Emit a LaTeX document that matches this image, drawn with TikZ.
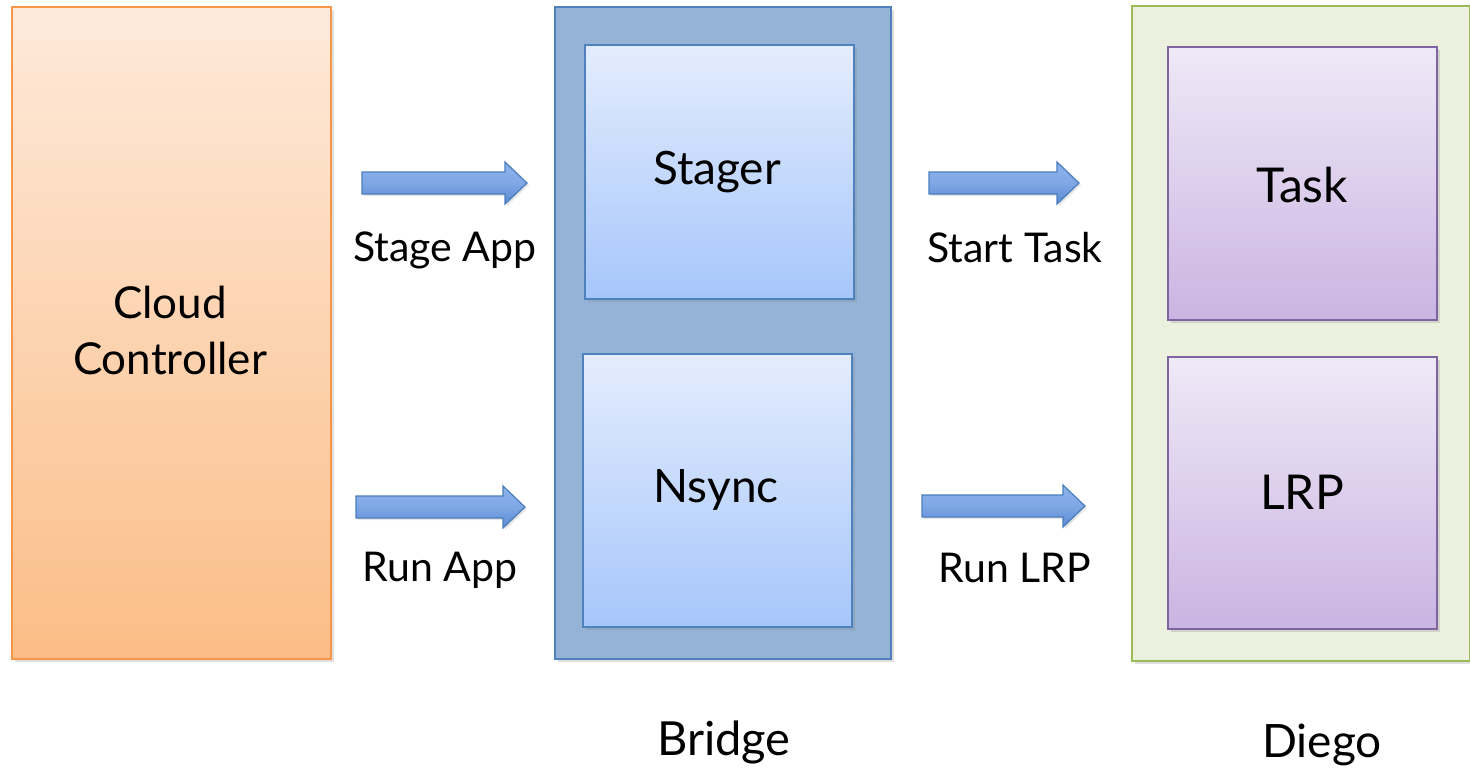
\documentclass[tikz,border=0pt]{standalone}
\usepackage{fontspec}
\setmainfont{Lato}
\usetikzlibrary{shadows}
\definecolor{ccTop}{HTML}{FEEADB}
\definecolor{ccBot}{HTML}{FBBD87}
\definecolor{ccLine}{HTML}{F79646}
\definecolor{brFill}{HTML}{95B3D7}
\definecolor{brLine}{HTML}{4F81BD}
\definecolor{blTop}{HTML}{E4EDFD}
\definecolor{blBot}{HTML}{A6C6FB}
\definecolor{dgFill}{HTML}{EBF1DE}
\definecolor{dgLine}{HTML}{9BBB59}
\definecolor{puTop}{HTML}{EFE9F7}
\definecolor{puBot}{HTML}{CAB4E2}
\definecolor{puLine}{HTML}{8064A2}
\definecolor{arTop}{HTML}{8FB4EC}
\definecolor{arBot}{HTML}{5A89D4}
\definecolor{arLine}{HTML}{4A7EBB}
\begin{document}
\begin{tikzpicture}[x=0.5pt,y=-0.5pt,
  shad/.style={drop shadow={opacity=0.25,shadow xshift=1.5pt,shadow yshift=-1.5pt}},
  outerbox/.style={rectangle,inner sep=0pt,line width=1pt,shad},
  innerbox/.style={rectangle,inner sep=0pt,line width=1pt,shad},
  lbl/.style={font=\fontsize{20.5}{24}\selectfont,text=black},
  big/.style={font=\fontsize{23}{28}\selectfont,text=black,align=center},
  blockarrow/.style={draw=arLine,line width=0.6pt,top color=arTop,bottom color=arBot,middle color=arTop!70!arBot,drop shadow={opacity=0.2,shadow xshift=1pt,shadow yshift=-1pt}}
]
\useasboundingbox (0,0) rectangle (1470,771);
% outer containers
\node[outerbox,draw=ccLine,top color=ccTop,bottom color=ccBot,minimum width=319pt*0.5,minimum height=652pt*0.5,anchor=north west] (cc) at (11,6) {};
\node[outerbox,draw=brLine,fill=brFill,minimum width=336pt*0.5,minimum height=652pt*0.5,anchor=north west] (bridge) at (554,6) {};
\node[outerbox,draw=dgLine,fill=dgFill,minimum width=338pt*0.5,minimum height=655pt*0.5,anchor=north west] (diego) at (1131,5) {};
% inner boxes
\node[innerbox,draw=brLine,top color=blTop,bottom color=blBot,minimum width=269pt*0.5,minimum height=254pt*0.5,anchor=north west] (stager) at (584,44) {};
\node[innerbox,draw=brLine,top color=blTop,bottom color=blBot,minimum width=269pt*0.5,minimum height=273pt*0.5,anchor=north west] (nsync) at (582,353) {};
\node[innerbox,draw=puLine,top color=puTop,bottom color=puBot,minimum width=269pt*0.5,minimum height=273pt*0.5,anchor=north west] (task) at (1167,46) {};
\node[innerbox,draw=puLine,top color=puTop,bottom color=puBot,minimum width=269pt*0.5,minimum height=272pt*0.5,anchor=north west] (lrp) at (1167,356) {};
% texts
\node[big,font=\fontsize{22}{28}\selectfont] (cct) at (170,330) {Cloud\\Controller};
\node[big] (stt) at (717,172) {Stager};
\node[big] (nst) at (716,490) {Nsync};
\node[big,font=\fontsize{24}{28}\selectfont] (tkt) at (1302,185) {Task};
\node[big,font=\fontsize{24}{28}\selectfont] (lrt) at (1302,492) {LRP};
\node[big,font=\fontsize{23.5}{28}\selectfont] (brt) at (724,742) {Bridge};
\node[big] (dgt) at (1322,745) {Diego};
% arrows
\coordinate (a1) at (362,183);
\coordinate (a2) at (356,507);
\coordinate (a3) at (929,183);
\coordinate (a4) at (922,506);
\path[blockarrow] (a1) ++(0,-11) -- ++(143,0) -- ++(0,-10) -- ++(22,21) -- ++(-22,21) -- ++(0,-10) -- ++(-143,0) -- cycle;
\path[blockarrow] (a2) ++(0,-11) -- ++(147,0) -- ++(0,-10) -- ++(22,21) -- ++(-22,21) -- ++(0,-10) -- ++(-147,0) -- cycle;
\path[blockarrow] (a3) ++(0,-11) -- ++(128,0) -- ++(0,-10) -- ++(22,21) -- ++(-22,21) -- ++(0,-10) -- ++(-128,0) -- cycle;
\path[blockarrow] (a4) ++(0,-11) -- ++(141,0) -- ++(0,-10) -- ++(22,21) -- ++(-22,21) -- ++(0,-10) -- ++(-141,0) -- cycle;
\node[lbl] (l1) at (445,250) {Stage App};
\node[lbl] (l2) at (440,570) {Run App};
\node[lbl] (l3) at (1015,248) {Start Task};
\node[lbl] (l4) at (1015,568) {Run LRP};
\end{tikzpicture}
\end{document}
